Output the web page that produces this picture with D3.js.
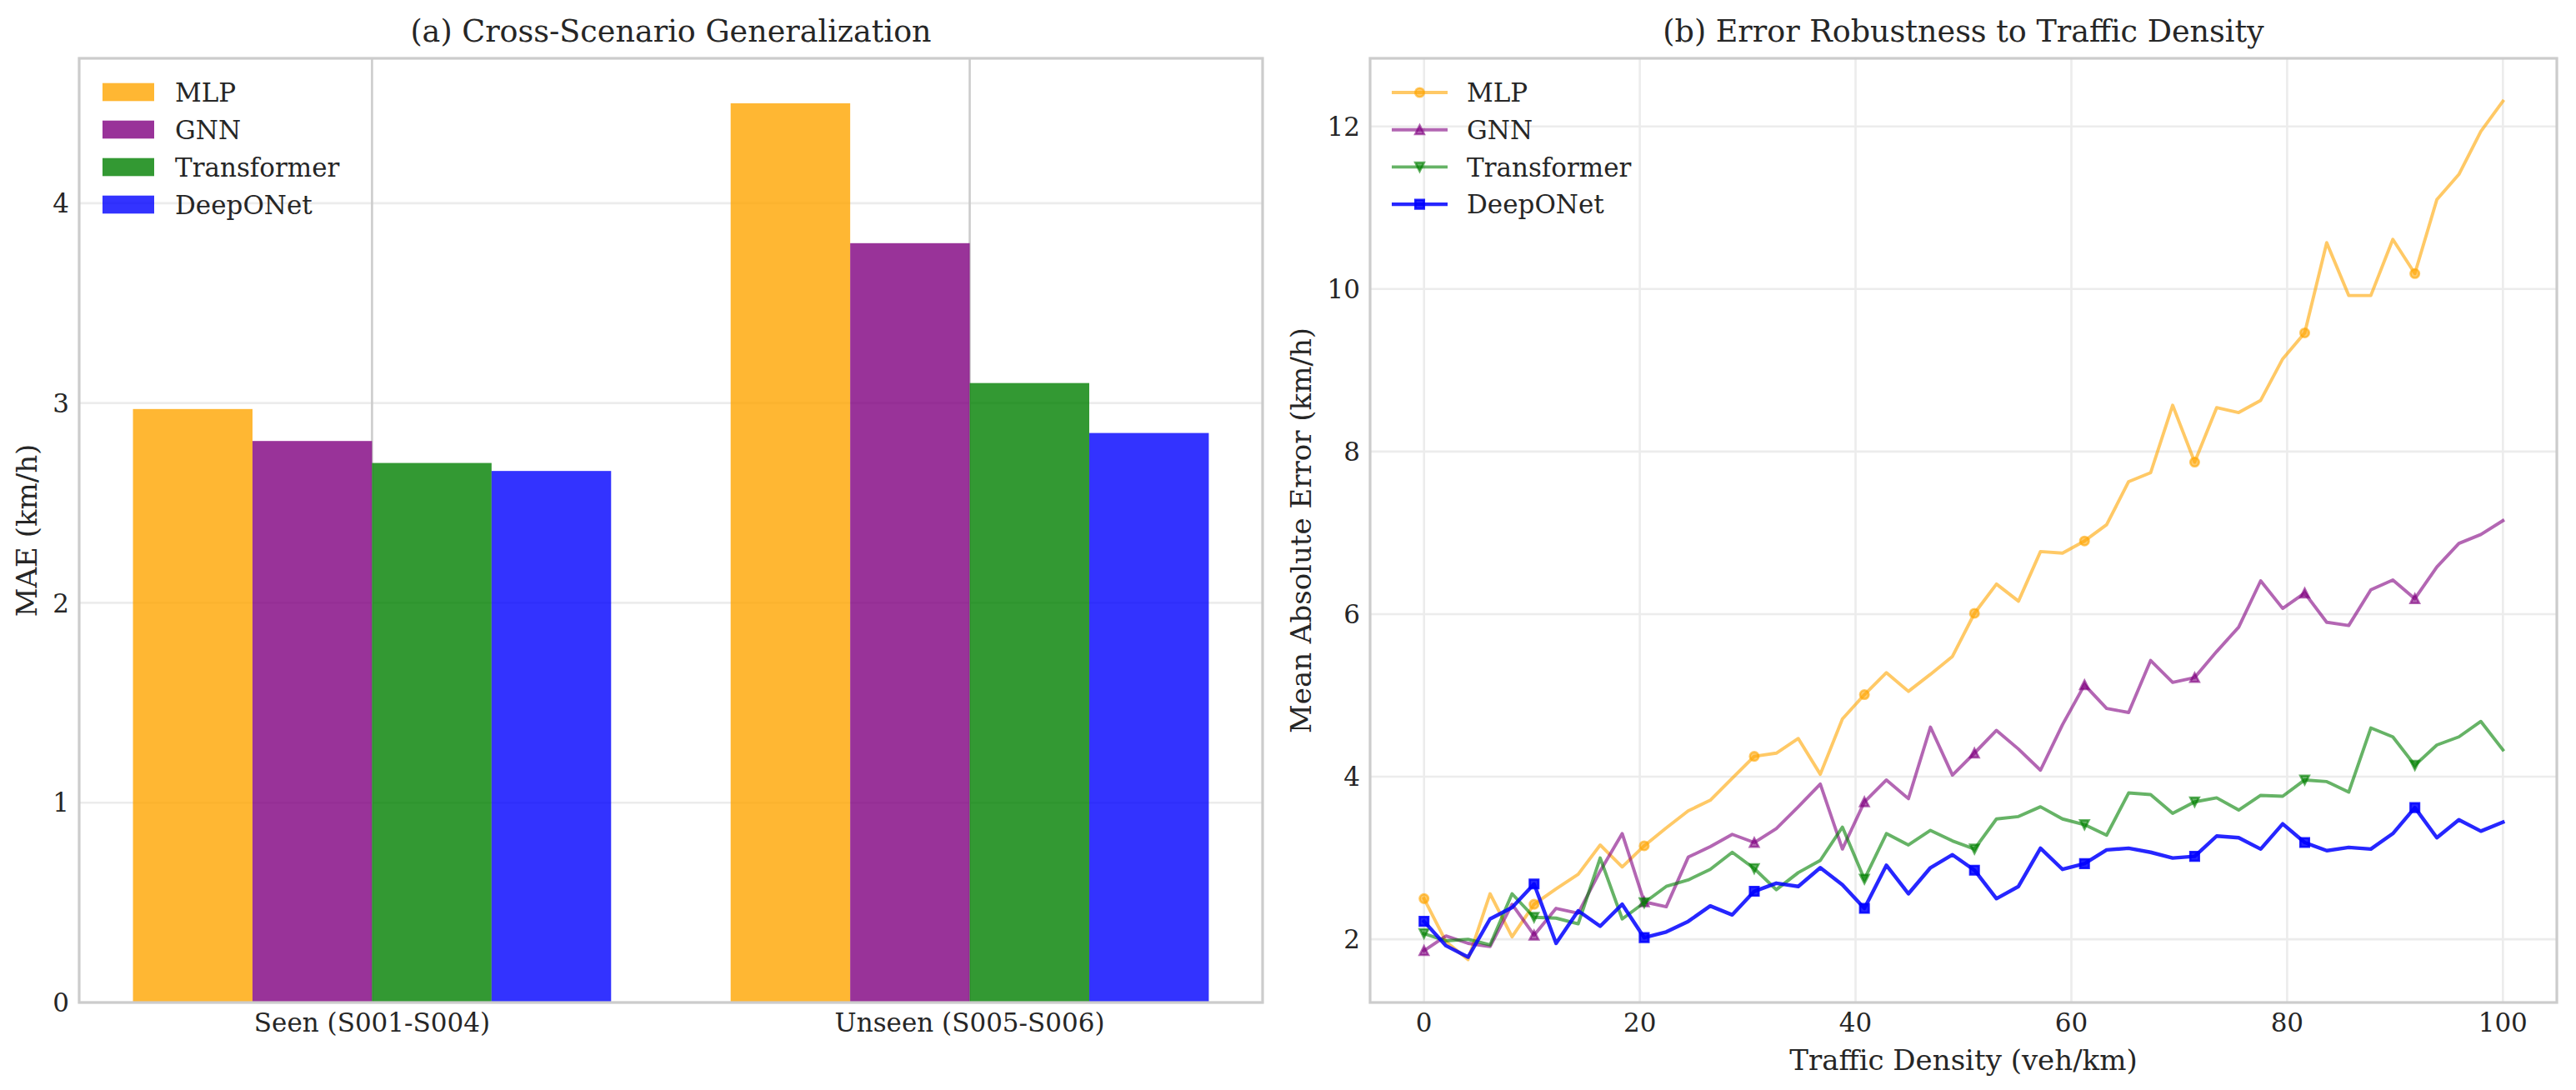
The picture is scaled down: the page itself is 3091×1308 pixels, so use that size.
<!DOCTYPE html>
<html>
<head>
<meta charset="utf-8">
<script src="https://cdn.jsdelivr.net/npm/d3@7"></script>
<style>
  body { margin: 0; background: #fff; }
  .container { width: 3091px; height: 1308px; }
  text { font-family: "DejaVu Serif", serif; fill: #262626; }
</style>
</head>
<body>
<div class="container"></div>
<script>
// ---- data ----
const models = ["MLP", "GNN", "Transformer", "DeepONet"];
const model_colors = ["orange", "purple", "green", "blue"];
const scenarios = ["Seen (S001-S004)", "Unseen (S005-S006)"];
const mae_seen = [2.97, 2.81, 2.70, 2.66];
const mae_unseen = [4.50, 3.80, 3.10, 2.85];
const bar_yticks = [0, 1, 2, 3, 4];

const density = [0, 2.04, 4.08, 6.12, 8.16, 10.20, 12.24, 14.29, 16.33, 18.37,
  20.41, 22.45, 24.49, 26.53, 28.57, 30.61, 32.65, 34.69, 36.73, 38.78,
  40.82, 42.86, 44.90, 46.94, 48.98, 51.02, 53.06, 55.10, 57.14, 59.18,
  61.22, 63.27, 65.31, 67.35, 69.39, 71.43, 73.47, 75.51, 77.55, 79.59,
  81.63, 83.67, 85.71, 87.76, 89.80, 91.84, 93.88, 95.92, 97.96, 100];
const err_mlp = [2.50, 1.97, 1.75, 2.56, 2.03, 2.43, 2.62, 2.80, 3.16, 2.89,
  3.15, 3.37, 3.58, 3.71, 3.98, 4.25, 4.29, 4.47, 4.03, 4.71,
  5.01, 5.28, 5.05, 5.26, 5.48, 6.01, 6.37, 6.16, 6.77, 6.75,
  6.90, 7.10, 7.63, 7.74, 8.57, 7.87, 8.54, 8.48, 8.63, 9.14,
  9.46, 10.57, 9.92, 9.92, 10.61, 10.19, 11.10, 11.41, 11.94, 12.31];
const err_gnn = [1.86, 2.04, 1.95, 1.91, 2.43, 2.05, 2.38, 2.32, 2.84, 3.30,
  2.46, 2.40, 3.01, 3.14, 3.29, 3.19, 3.36, 3.63, 3.91, 3.11,
  3.69, 3.96, 3.73, 4.61, 4.02, 4.29, 4.57, 4.34, 4.08, 4.64,
  5.13, 4.84, 4.79, 5.43, 5.16, 5.22, 5.54, 5.84, 6.41, 6.07,
  6.26, 5.90, 5.86, 6.30, 6.42, 6.19, 6.58, 6.87, 6.98, 7.15];
const err_transformer = [2.07, 1.98, 2.00, 1.93, 2.56, 2.27, 2.26, 2.19, 3.00, 2.25,
  2.45, 2.65, 2.73, 2.86, 3.07, 2.87, 2.61, 2.82, 2.97, 3.38,
  2.74, 3.30, 3.16, 3.34, 3.21, 3.11, 3.48, 3.51, 3.63, 3.48,
  3.41, 3.28, 3.80, 3.78, 3.55, 3.69, 3.74, 3.59, 3.77, 3.76,
  3.96, 3.94, 3.81, 4.60, 4.49, 4.14, 4.39, 4.49, 4.68, 4.33];
const err_deeponet = [2.22, 1.92, 1.78, 2.25, 2.39, 2.68, 1.95, 2.35, 2.16, 2.43,
  2.02, 2.09, 2.22, 2.41, 2.30, 2.59, 2.69, 2.65, 2.88, 2.67,
  2.38, 2.91, 2.56, 2.88, 3.04, 2.85, 2.50, 2.65, 3.12, 2.86,
  2.93, 3.10, 3.12, 3.07, 3.00, 3.02, 3.27, 3.25, 3.11, 3.42,
  3.19, 3.09, 3.13, 3.11, 3.30, 3.62, 3.25, 3.47, 3.33, 3.44];
const line_xticks = [0, 20, 40, 60, 80, 100];
const line_yticks = [2, 4, 6, 8, 10, 12];

const GRID = "#ececec", SPINE = "#cccccc";

// matplotlib style marker shapes, size = ms*ms
const mk_circle = { draw(c, s) { const r = Math.sqrt(s) / 2; c.moveTo(r, 0); c.arc(0, 0, r, 0, 2 * Math.PI); } };
const mk_up = { draw(c, s) { const h = Math.sqrt(s) / 2; c.moveTo(0, -h); c.lineTo(h, h); c.lineTo(-h, h); c.closePath(); } };
const mk_down = { draw(c, s) { const h = Math.sqrt(s) / 2; c.moveTo(0, h); c.lineTo(h, -h); c.lineTo(-h, -h); c.closePath(); } };
const mk_square = { draw(c, s) { const h = Math.sqrt(s) / 2; c.rect(-h, -h, 2 * h, 2 * h); } };
const markers = [mk_circle, mk_up, mk_down, mk_square];

let svg = d3.select(".container").append("svg")
  .attr("width", 3091).attr("height", 1308)
  .style("background", "#fff");

draw_bars();
draw_lines();

function draw_bars() {
  const L = 95, R = 1515, T = 70, B = 1203;
  const w = 0.2;
  const x = d3.scaleLinear().domain([-0.4 - 0.09, 1.4 + 0.09]).range([L, R]);
  const ymax = d3.max(mae_seen.concat(mae_unseen)) * 1.05;
  const y = d3.scaleLinear().domain([0, ymax]).range([B, T]);
  let g = svg.append("g");

  g.selectAll(".hgrid").data(bar_yticks).enter().append("line")
    .attr("x1", L).attr("x2", R)
    .attr("y1", d => y(d)).attr("y2", d => y(d))
    .attr("stroke", GRID).attr("stroke-width", 2.6);
  g.selectAll(".vgrid").data(scenarios).enter().append("line")
    .attr("x1", (d, i) => x(i)).attr("x2", (d, i) => x(i))
    .attr("y1", T).attr("y2", B)
    .attr("stroke", SPINE).attr("stroke-width", 2.6);

  const rows = [mae_seen, mae_unseen];
  rows.forEach((vals, si) => {
    g.selectAll(".bar" + si).data(vals).enter().append("rect")
      .attr("x", (d, j) => x(si + (j - 1.5) * w - w / 2))
      .attr("width", x(w) - x(0))
      .attr("y", d => y(d))
      .attr("height", d => y(0) - y(d))
      .attr("fill", (d, j) => model_colors[j])
      .attr("fill-opacity", 0.8);
  });

  g.append("rect").attr("x", L).attr("y", T).attr("width", R - L).attr("height", B - T)
    .attr("fill", "none").attr("stroke", SPINE).attr("stroke-width", 3.2);

  g.selectAll(".ytl").data(bar_yticks).enter().append("text")
    .attr("x", L - 12).attr("y", d => y(d)).attr("dy", "0.36em")
    .attr("text-anchor", "end").style("font-size", "31px").text(d => d);
  g.selectAll(".xtl").data(scenarios).enter().append("text")
    .attr("x", (d, i) => x(i)).attr("y", 1238)
    .attr("text-anchor", "middle").style("font-size", "31px").text(d => d);

  g.append("text").attr("transform", `translate(44, ${(T + B) / 2}) rotate(-90)`)
    .attr("text-anchor", "middle").style("font-size", "34px").text("MAE (km/h)");
  g.append("text").attr("x", (L + R) / 2).attr("y", 50)
    .attr("text-anchor", "middle").style("font-size", "36.5px")
    .text("(a) Cross-Scenario Generalization");

  // legend
  models.forEach((m, j) => {
    const cy = 110.5 + j * 45;
    g.append("rect").attr("x", 123).attr("y", cy - 10.8).attr("width", 62).attr("height", 21.6)
      .attr("fill", model_colors[j]).attr("fill-opacity", 0.8);
    g.append("text").attr("x", 210).attr("y", cy).attr("dy", "0.36em")
      .style("font-size", "31px").text(m);
  });
}

function draw_lines() {
  const L = 1644, R = 3068, T = 70, B = 1203;
  const series = [err_mlp, err_gnn, err_transformer, err_deeponet];
  const alphas = [0.6, 0.6, 0.6, 0.85];
  const widths = [3.9, 3.9, 3.9, 4.4];
  const ms = 10.5;

  const x = d3.scaleLinear().domain([-5, 105]).range([L, R]);
  const all = [].concat(...series);
  const lo = d3.min(all), hi = d3.max(all), pad = (hi - lo) * 0.05;
  const y = d3.scaleLinear().domain([lo - pad, hi + pad]).range([B, T]);
  let g = svg.append("g");

  g.selectAll(".hgrid").data(line_yticks).enter().append("line")
    .attr("x1", L).attr("x2", R)
    .attr("y1", d => y(d)).attr("y2", d => y(d))
    .attr("stroke", GRID).attr("stroke-width", 2.6);
  g.selectAll(".vgrid").data(line_xticks).enter().append("line")
    .attr("x1", d => x(d)).attr("x2", d => x(d))
    .attr("y1", T).attr("y2", B)
    .attr("stroke", GRID).attr("stroke-width", 2.6);

  const line = d3.line().x(d => x(d[0])).y(d => y(d[1]));
  const symbol = d3.symbol().size(ms * ms);

  series.forEach((vals, j) => {
    const pts = vals.map((v, i) => [density[i], v]);
    g.append("path").attr("d", line(pts))
      .attr("fill", "none").attr("stroke", model_colors[j])
      .attr("stroke-opacity", alphas[j]).attr("stroke-width", widths[j])
      .attr("stroke-linejoin", "round").attr("stroke-linecap", "square");
    g.selectAll(".mk" + j).data(pts.filter((d, i) => i % 5 === 0)).enter().append("path")
      .attr("transform", d => `translate(${x(d[0])},${y(d[1])})`)
      .attr("d", symbol.type(markers[j])())
      .attr("fill", model_colors[j]).attr("fill-opacity", alphas[j])
      .attr("stroke", model_colors[j]).attr("stroke-opacity", alphas[j])
      .attr("stroke-width", 2.6);
  });

  g.append("rect").attr("x", L).attr("y", T).attr("width", R - L).attr("height", B - T)
    .attr("fill", "none").attr("stroke", SPINE).attr("stroke-width", 3.2);

  g.selectAll(".ytl").data(line_yticks).enter().append("text")
    .attr("x", L - 12).attr("y", d => y(d)).attr("dy", "0.36em")
    .attr("text-anchor", "end").style("font-size", "31px").text(d => d);
  g.selectAll(".xtl").data(line_xticks).enter().append("text")
    .attr("x", d => x(d)).attr("y", 1238)
    .attr("text-anchor", "middle").style("font-size", "31px").text(d => d);

  g.append("text").attr("x", (L + R) / 2).attr("y", 1284)
    .attr("text-anchor", "middle").style("font-size", "34px").text("Traffic Density (veh/km)");
  g.append("text").attr("transform", `translate(1573, ${(T + B) / 2}) rotate(-90)`)
    .attr("text-anchor", "middle").style("font-size", "34px").text("Mean Absolute Error (km/h)");
  g.append("text").attr("x", (L + R) / 2).attr("y", 50)
    .attr("text-anchor", "middle").style("font-size", "36.5px")
    .text("(b) Error Robustness to Traffic Density");

  // legend
  models.forEach((m, j) => {
    const cy = 111 + j * 44.7;
    g.append("line").attr("x1", 1670).attr("x2", 1737).attr("y1", cy).attr("y2", cy)
      .attr("stroke", model_colors[j]).attr("stroke-opacity", alphas[j])
      .attr("stroke-width", widths[j]);
    g.append("path").attr("transform", `translate(1703.5,${cy})`)
      .attr("d", symbol.type(markers[j])())
      .attr("fill", model_colors[j]).attr("fill-opacity", alphas[j])
      .attr("stroke", model_colors[j]).attr("stroke-opacity", alphas[j])
      .attr("stroke-width", 2.6);
    g.append("text").attr("x", 1760).attr("y", cy).attr("dy", "0.36em")
      .style("font-size", "31px").text(m);
  });
}
</script>
</body>
</html>
